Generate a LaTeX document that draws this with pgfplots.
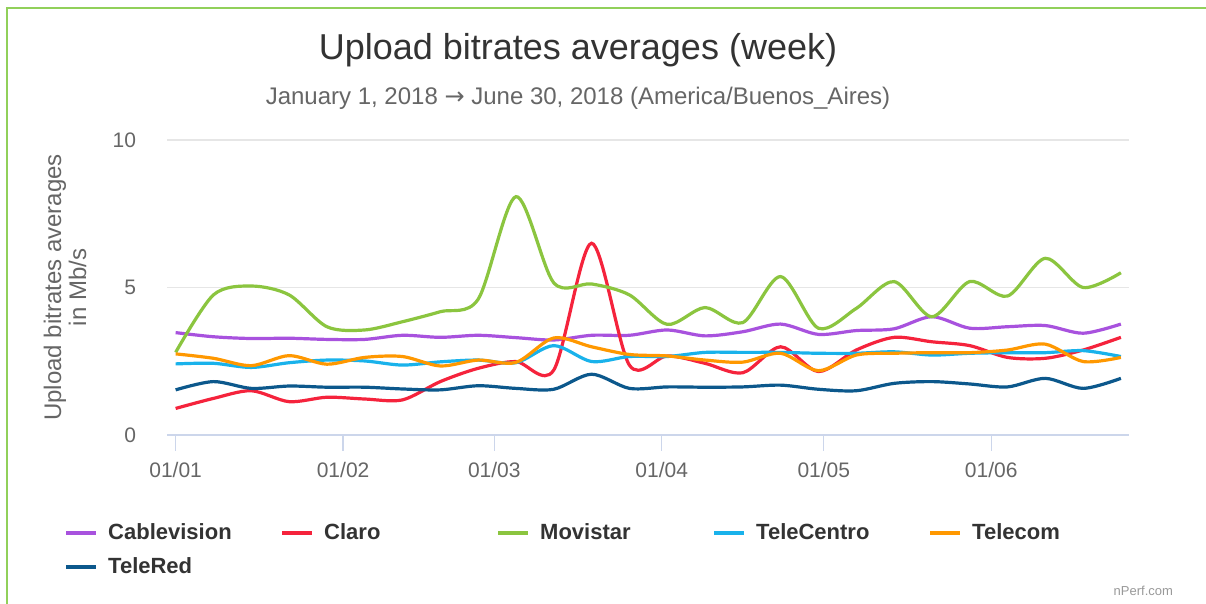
\documentclass[border=0pt]{standalone}
\usepackage{fontspec}
\setmainfont{Liberation Sans}
\newfontfamily\dejavu{DejaVu Sans}
\usepackage{pgfplots}
\pgfplotsset{compat=1.18}
\usepackage{pgfplotstable}

\definecolor{cCab}{RGB}{168,82,222}
\definecolor{cClaro}{RGB}{245,35,60}
\definecolor{cMov}{RGB}{139,197,63}
\definecolor{cTC}{RGB}{25,178,235}
\definecolor{cTel}{RGB}{255,152,0}
\definecolor{cTR}{RGB}{12,88,140}
\definecolor{frame}{RGB}{145,208,90}
\definecolor{gridc}{RGB}{230,230,230}
\definecolor{axisc}{RGB}{204,214,235}
\definecolor{txtdark}{RGB}{51,51,51}
\definecolor{txtgray}{RGB}{102,102,102}

\pgfplotstableread{
day cab claro mov tc tel tr
0   3.47 0.90 2.80 2.41 2.75 1.53
7   3.33 1.24 4.75 2.43 2.60 1.81
14  3.27 1.50 5.05 2.29 2.35 1.58
21  3.28 1.13 4.75 2.45 2.69 1.66
28  3.24 1.28 3.67 2.54 2.40 1.62
35  3.24 1.22 3.56 2.51 2.63 1.62
42  3.38 1.19 3.84 2.37 2.66 1.56
49  3.31 1.81 4.18 2.48 2.34 1.53
56  3.38 2.26 4.60 2.54 2.54 1.67
63  3.30 2.49 8.08 2.45 2.46 1.58
70  3.22 2.20 5.16 3.03 3.29 1.55
77  3.38 6.50 5.12 2.49 2.99 2.06
84  3.38 2.37 4.75 2.66 2.73 1.58
91  3.56 2.68 3.75 2.66 2.68 1.63
98  3.36 2.43 4.32 2.80 2.54 1.62
105 3.50 2.11 3.81 2.80 2.47 1.63
112 3.76 2.99 5.37 2.80 2.77 1.69
119 3.41 2.15 3.62 2.77 2.18 1.55
126 3.54 2.88 4.29 2.77 2.71 1.50
133 3.60 3.31 5.20 2.82 2.77 1.75
140 4.01 3.16 4.01 2.71 2.79 1.81
147 3.62 3.03 5.20 2.77 2.79 1.73
154 3.67 2.63 4.71 2.79 2.88 1.63
161 3.71 2.60 5.99 2.79 3.08 1.92
168 3.45 2.88 5.00 2.86 2.49 1.58
175 3.76 3.31 5.50 2.66 2.63 1.92
}\datatable

\begin{document}
\begin{tikzpicture}[x=1pt,y=1pt]
\path[use as bounding box] (0,0) rectangle (603,302);
\fill[white] (0,0) rectangle (603,302);
\draw[frame, line width=1pt] (3.7,0) -- (3.7,298) -- (603,298);

\node[anchor=base, text=txtdark, font=\fontsize{18}{20}\selectfont] at (289,272) {Upload bitrates averages (week)};
\node[anchor=base, text=txtgray, font=\fontsize{12}{14}\selectfont] at (289,249.5) {January 1, 2018 {\dejavu →} June 30, 2018 (America/Buenos\_Aires)};
\node[anchor=base east, text=gray!80, font=\fontsize{6.5}{7}\selectfont] at (590,4) {nPerf.com};

\begin{axis}[
  scale only axis,
  width=481pt, height=147.5pt,
  at={(83.5pt,84.5pt)}, anchor=south west,
  xmin=-1.6, xmax=176.5,
  ymin=0, ymax=10,
  axis line style={draw=none},
  axis x line*=bottom,
  axis y line*=left,
  ytick={0,5,10},
  ymajorgrids, grid style={gridc, line width=0.6pt},
  xtick={0,31,59,90,120,151},
  xticklabels={01/01,01/02,01/03,01/04,01/05,01/06},
  tick align=outside,
  ytick style={draw=none},
  xtick style={draw=axisc, line width=0.6pt},
  major tick length=8pt,
  /pgf/number format/assume math mode=true,
  ticklabel style={text=txtgray, font=\fontsize{10.5}{12}\selectfont},
  yticklabel style={xshift=-4pt},
  xticklabel style={yshift=-2pt},
  ylabel={Upload bitrates averages\\in Mb/s},
  ylabel style={align=center, text=txtgray, font=\fontsize{12}{12.5}\selectfont, at={(axis description cs:-0.106,0.5)}, anchor=center},
  clip=false,
  legend columns=5,
  legend style={draw=none, fill=none, at={(axis description cs:-0.1135,-0.272)}, anchor=north west,
     font=\bfseries\fontsize{11}{13}\selectfont, text=txtdark,
     /tikz/every odd column/.append style={column sep=3pt},
     /tikz/every even column/.append style={column sep=0pt},
     row sep=3.5pt},
  legend cell align=left,
  legend image code/.code={\draw[line width=2pt] (0pt,0pt) -- (15pt,0pt);},
  every axis plot/.append style={line width=1.6pt, smooth, tension=0.5, no marks},
]
\draw[axisc, line width=0.8pt] (axis cs:-1.6,0) -- (axis cs:176.5,0);
\addplot[cCab] table[x=day,y=cab] {\datatable};
\addlegendentry{\makebox[84pt][l]{Cablevision}}
\addplot[cClaro] table[x=day,y=claro] {\datatable};
\addlegendentry{\makebox[84pt][l]{Claro}}
\addplot[cMov] table[x=day,y=mov] {\datatable};
\addlegendentry{\makebox[84pt][l]{Movistar}}
\addplot[cTC] table[x=day,y=tc] {\datatable};
\addlegendentry{\makebox[84pt][l]{TeleCentro}}
\addplot[cTel] table[x=day,y=tel] {\datatable};
\addlegendentry{\makebox[84pt][l]{Telecom}}
\addplot[cTR] table[x=day,y=tr] {\datatable};
\addlegendentry{\makebox[84pt][l]{TeleRed}}
\end{axis}
\end{tikzpicture}
\end{document}
